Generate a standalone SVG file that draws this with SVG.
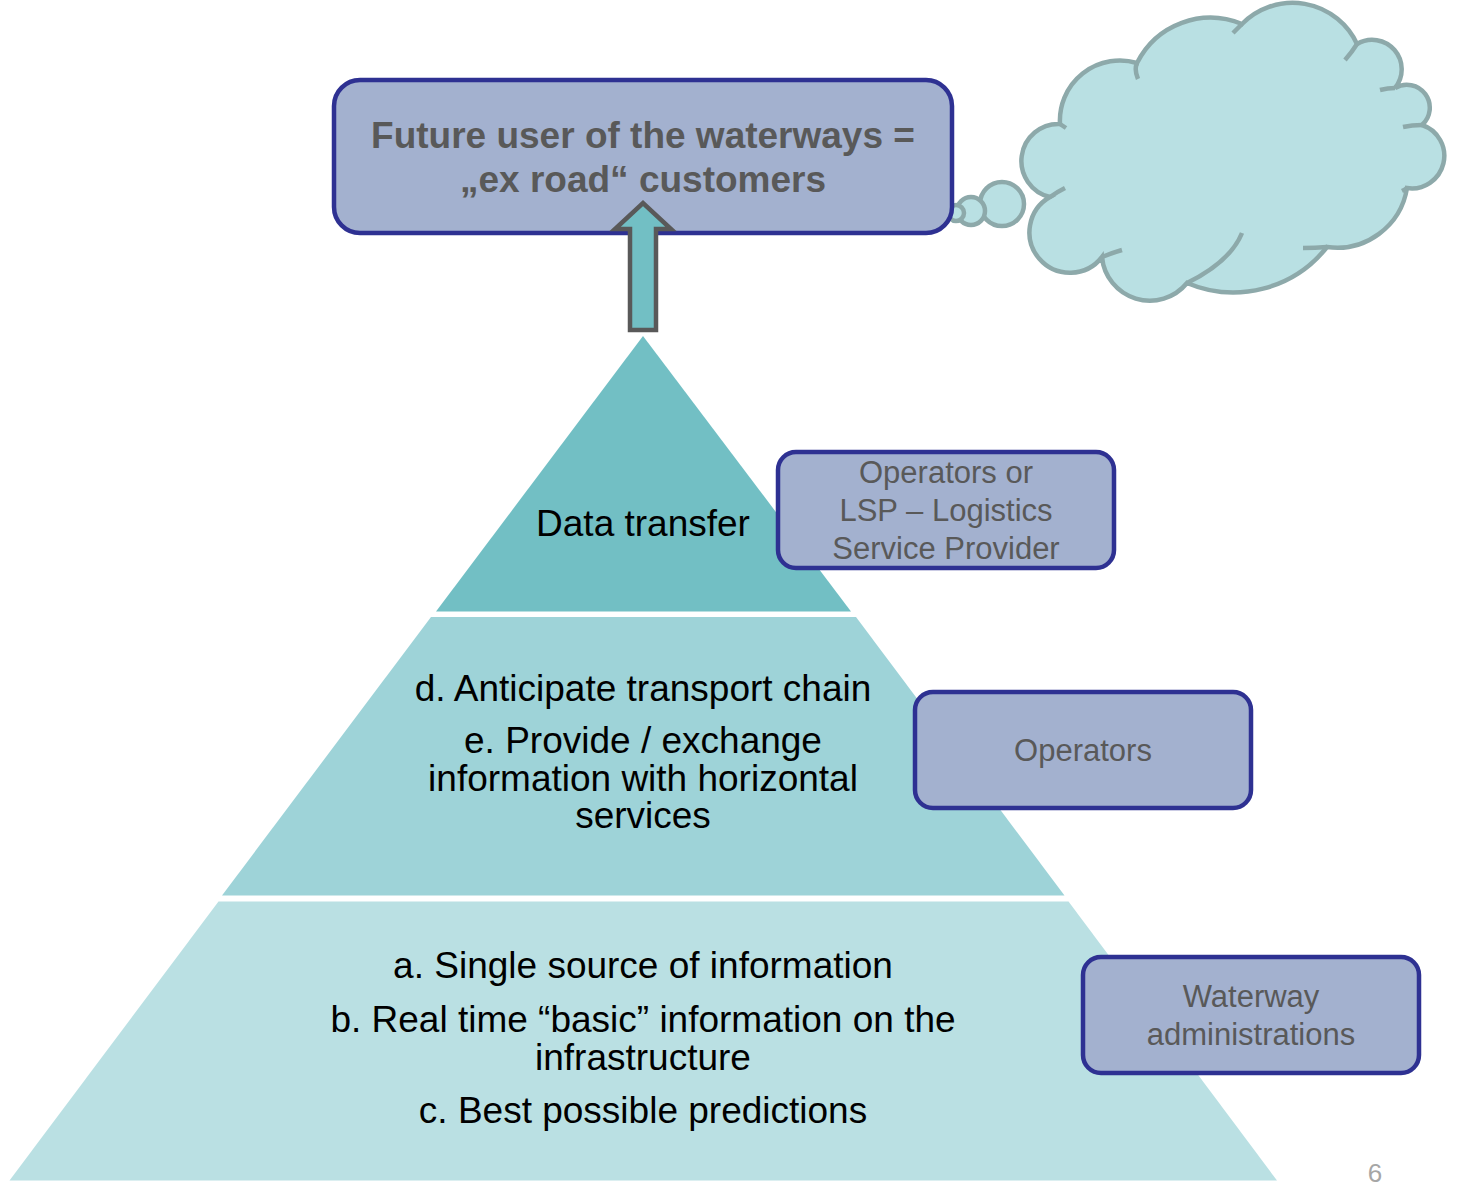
<svg xmlns="http://www.w3.org/2000/svg" width="1460" height="1189" viewBox="0 0 1460 1189">
<style>
.box{fill:#A3B1CF;stroke:#2E3192;stroke-width:4.5}
.gt{font-family:"Liberation Sans",Arial,sans-serif;fill:#595959;text-anchor:middle}
.bt{font-family:"Liberation Sans",Arial,sans-serif;fill:#000;text-anchor:middle;font-size:37px}
.cl{fill:#B9E0E3;stroke:#8DA9AA;stroke-width:4.5}
.cs{fill:none;stroke:#8DA9AA;stroke-width:4.5}
</style>
<rect width="1460" height="1189" fill="#fff"/>
<g id="tier-top">
<polygon points="643,336 851,611.5 436,611.5" fill="#72BFC4"/>
<text class="bt" x="643" y="536">Data transfer</text>
</g>
<g id="tier-middle">
<polygon points="431,617 856,617 1064.5,895.5 222,895.5" fill="#9ED3D8"/>
<text class="bt" x="643" y="701">d. Anticipate transport chain</text>
<text class="bt" x="643" y="753">e. Provide / exchange</text>
<text class="bt" x="643" y="791">information with horizontal</text>
<text class="bt" x="643" y="828">services</text>
</g>
<g id="tier-bottom">
<polygon points="218.5,901.5 1068.5,901.5 1277,1180.5 9.5,1180.5" fill="#BAE0E3"/>
<text class="bt" x="643" y="978">a. Single source of information</text>
<text class="bt" x="643" y="1032">b. Real time “basic” information on the</text>
<text class="bt" x="643" y="1070">infrastructure</text>
<text class="bt" x="643" y="1123">c. Best possible predictions</text>
</g>
<g id="cloud">
<circle class="cl" cx="1002" cy="204" r="22"/>
<circle class="cl" cx="971" cy="211" r="14"/>
<circle class="cl" cx="956" cy="213" r="8"/>
<path class="cl" d="M1060,124 A60,60 0 0 1 1137,63 A82,82 0 0 1 1242,24 A71,71 0 0 1 1357,44 A29.5,29.5 0 0 1 1395,88 A23,23 0 0 1 1422,125 A32.5,32.5 0 0 1 1407,188 A71,71 0 0 1 1327,247 A119,119 0 0 1 1187,283 A48,48 0 0 1 1102,257 A40.5,40.5 0 1 1 1050,197 A37,37 0 0 1 1060,124 Z"/>
<path class="cs" d="M1060,124 L1066,128 M1137,63 Q1134,70 1138,79 M1242,24 Q1238,28 1233,33 M1357,44 Q1352,52 1345,60 M1395,88 Q1388,88 1380,90 M1422,125 Q1412,125 1403,127 M1407,188 Q1404,190 1402,191 M1327,247 Q1315,248 1303,248 M1187,283 Q1230,262 1242,233 M1102,257 Q1112,253 1122,250 M1050,197 Q1057,192 1065,188"/>
</g>
<g id="box-future">
<rect class="box" x="334" y="80" width="618" height="153" rx="26"/>
<text class="gt" x="643" y="148" font-size="37" font-weight="bold">Future user of the waterways =</text>
<text class="gt" x="643" y="192" font-size="37" font-weight="bold">„ex road“ customers</text>
</g>
<g id="box-lsp">
<rect class="box" x="778" y="452" width="336" height="116" rx="18"/>
<text class="gt" x="946" y="483" font-size="31">Operators or</text>
<text class="gt" x="946" y="521" font-size="31">LSP – Logistics</text>
<text class="gt" x="946" y="559" font-size="31">Service Provider</text>
</g>
<g id="box-operators">
<rect class="box" x="915" y="692" width="336" height="116" rx="18"/>
<text class="gt" x="1083" y="761" font-size="31">Operators</text>
</g>
<g id="box-waterway">
<rect class="box" x="1083" y="957" width="336" height="116" rx="18"/>
<text class="gt" x="1251" y="1007" font-size="31">Waterway</text>
<text class="gt" x="1251" y="1045" font-size="31">administrations</text>
</g>
<g id="connectors">
<polygon points="630,330 656,330 656,229 671,229 643,203 615,229 630,229" fill="#72BFC4" stroke="#595959" stroke-width="4.5" stroke-linejoin="miter"/>
</g>
<text x="1375" y="1182" font-family="Liberation Sans,Arial,sans-serif" font-size="26" fill="#A6A6A6" text-anchor="middle">6</text>
</svg>
